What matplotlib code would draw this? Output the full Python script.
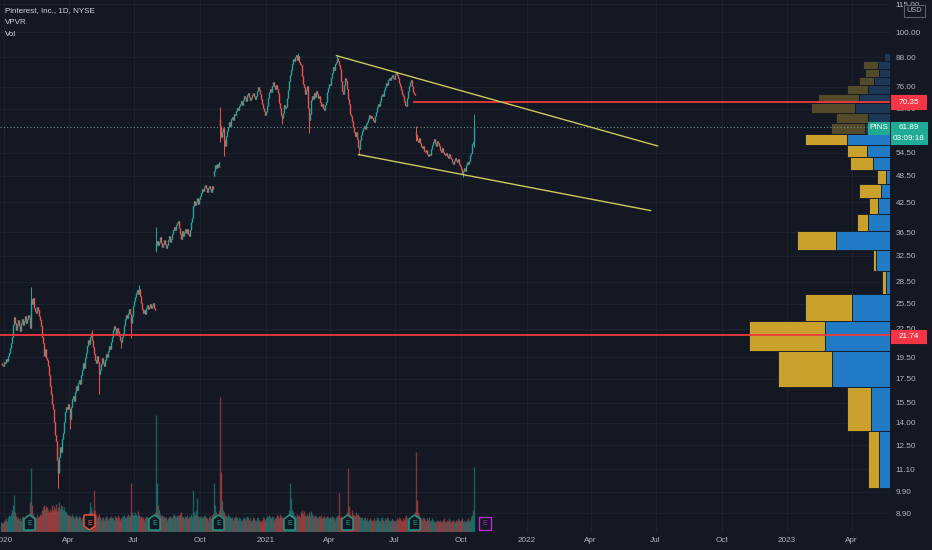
import matplotlib
matplotlib.use("Agg")
import matplotlib.pyplot as plt
from matplotlib.patches import Polygon, Rectangle
from matplotlib.ticker import NullLocator
import numpy as np
import pandas as pd

plt.rcParams['font.family'] = ['Liberation Sans', 'DejaVu Sans']

# ---- data: PINS daily closes / volumes (M), one per weekday from 2019-12-27
start = "2019-12-27"
closes_2020 = [
    18.9, 18.7, 18.6,
    19.0, 18.9, 19.3, 19.1, 19.6, 19.9, 20.4, 20.9, 21.6, 22.9, 23.8, 23.1, 22.4, 23.0, 23.5, 22.8, 22.2, 23.1, 23.6, 22.9, 23.4, 24.0, 23.2,
    23.6, 24.1, 23.8, 22.6, 26.1, 25.5, 26.3, 25.0, 24.6, 24.3, 25.1, 24.7, 24.0, 23.5, 22.8, 21.6, 20.9, 19.6, 20.3, 19.4,
    19.2, 18.6, 17.8, 16.9, 16.2, 15.4, 15.0, 14.1, 13.2, 12.8, 11.6, 10.9, 11.8, 12.4, 12.1, 12.9, 13.3, 14.1, 14.8, 15.2, 15.0, 15.4,
    15.0, 14.3, 15.2, 15.8, 16.0, 15.6, 16.4, 16.9, 16.5, 17.1, 17.4, 17.0, 17.8, 18.3, 18.9, 18.5, 19.4, 19.9, 20.6, 21.3, 20.8, 21.6,
    22.0, 21.2, 20.5, 19.8, 19.2, 18.9, 19.6, 19.0, 17.9, 18.3, 18.8, 19.4, 18.9, 18.6, 19.2, 19.8, 19.5, 20.1, 20.6, 20.3, 21.0,
    21.6, 22.3, 22.8, 22.5, 21.9, 22.6, 22.2, 21.7, 21.3, 21.0, 21.6, 22.0, 22.9, 23.6, 24.1, 23.7, 24.4, 24.8, 24.2, 23.1, 24.0, 25.2,
    25.9, 26.4, 26.9, 27.3, 26.8, 27.4, 26.5, 25.6, 24.8, 24.4, 24.7, 24.2, 24.9, 25.3, 24.8, 25.1, 25.5, 24.9, 25.2, 25.6, 25.0, 24.7, 34.3,
    35.0, 34.2, 34.8, 35.6, 34.6, 33.9, 34.4, 35.1, 34.5, 33.8, 34.3, 35.2, 35.9, 34.8, 35.4, 36.2, 37.0, 37.6, 36.9, 37.8, 38.2,
    38.6, 37.4, 36.2, 35.4, 36.8, 35.9, 36.5, 37.2, 36.4, 37.1, 36.3, 35.8, 36.9, 38.4, 39.2, 41.6, 42.8, 41.9, 42.6, 43.4, 42.1, 43.1,
    43.8, 44.6, 45.3, 44.9, 45.8, 46.3, 45.7, 44.8, 45.6, 46.2, 45.4, 44.7, 46.0, 45.5, 49.6, 51.2, 50.4, 51.6, 50.8, 51.9, 62.5, 58.9,
    60.4, 61.8, 58.2, 56.5, 59.3, 60.8, 62.1, 63.5, 62.4, 64.6, 65.3, 64.1, 66.2, 65.8, 67.4, 68.3, 67.6, 68.9, 69.8, 70.6, 69.4,
    71.2, 72.4, 71.6, 70.8, 72.9, 73.6, 72.1, 70.9, 71.7, 72.8, 73.5, 72.4, 71.3, 72.6, 74.2, 75.8, 74.6, 73.1, 71.5, 69.8, 68.2, 67.1, 65.9,
]
closes_2021 = [
    66.8, 68.9, 71.6, 73.8, 75.2, 74.1, 76.3, 77.8, 76.4, 75.0, 76.8, 75.2, 73.6, 70.1, 68.2, 65.8, 64.9, 66.7, 69.3, 68.4, 68.5,
    71.6, 74.8, 78.3, 80.4, 82.6, 85.1, 87.4, 86.6, 88.3, 89.2, 87.1, 88.5, 86.0, 85.2, 84.6, 80.3, 77.1, 76.0, 73.2, 74.8,
    76.2, 68.4, 64.2, 66.3, 70.9, 72.5, 71.4, 73.6, 72.2, 74.3, 73.1, 71.8, 72.6, 70.4, 68.9, 69.7, 68.3, 67.5, 69.2, 70.5, 73.8, 75.6, 77.0,
    76.8, 79.4, 81.5, 83.7, 82.6, 85.2, 86.1, 87.9, 86.4, 84.8, 83.2, 78.1, 74.2, 73.4, 76.5, 79.2, 78.0, 75.1, 71.3, 69.8, 66.2, 65.6,
    63.9, 62.1, 60.4, 59.2, 60.6, 58.3, 56.2, 55.4, 58.2, 59.6, 60.8, 61.7, 62.5, 61.4, 62.9, 63.7, 64.5, 65.8, 64.9, 65.6, 64.8,
    64.1, 63.6, 65.4, 66.8, 68.5, 69.7, 68.9, 70.6, 72.4, 73.1, 72.5, 74.8, 75.9, 77.3, 76.6, 78.4, 79.2, 78.7, 79.9, 80.6, 79.5, 79.0,
    80.9, 81.6, 80.7, 79.2, 77.5, 76.3, 74.8, 73.2, 72.4, 70.6, 69.4, 68.9, 71.8, 74.5, 76.2, 77.9, 78.6, 76.4, 74.1, 73.2, 72.8, 59.6,
    58.1, 57.4, 58.6, 57.2, 56.3, 55.8, 56.4, 55.1, 54.6, 55.3, 54.2, 53.6, 54.1, 53.9, 55.4, 56.8, 57.6, 58.3, 57.1, 56.5, 57.8, 57.2,
    56.4, 55.2, 54.8, 55.7, 54.6, 54.1, 53.8, 54.5, 53.6, 53.0, 54.2, 53.4, 52.7, 52.1, 51.6, 52.4, 53.1, 52.6, 51.9, 52.8, 51.4, 50.9,
    50.2, 48.9, 49.6, 50.4, 49.8, 51.3, 52.1, 51.6, 52.4, 53.8, 54.3, 56.9, 57.4, 61.89,
]
volumes_2020 = [
    8, 7, 7,
    9, 10, 11, 9, 12, 14, 13, 15, 18, 22, 30, 16, 13, 11, 12, 10, 11, 9, 12, 13, 10, 11, 14,
    12, 14, 13, 24, 52, 22, 15, 13, 12, 11, 14, 12, 13, 15, 14, 18, 20, 22, 19, 21,
    20, 18, 16, 19, 17, 22, 18, 21, 19, 23, 17, 20, 24, 19, 22, 21, 18, 20, 17, 16, 15, 14,
    14, 13, 12, 15, 13, 11, 12, 14, 12, 11, 13, 12, 10, 11, 13, 12, 14, 12, 15, 13, 16, 24,
    20, 17, 15, 34, 18, 14, 11, 13, 15, 12, 10, 11, 12, 10, 11, 13, 12, 10, 11, 12, 13,
    11, 12, 10, 13, 12, 11, 14, 12, 10, 11, 13, 12, 14, 12, 11, 13, 15, 12, 14, 40, 16, 14,
    14, 16, 15, 13, 17, 14, 12, 13, 11, 12, 10, 11, 13, 12, 11, 10, 12, 11, 10, 12, 14, 16, 95,
    40, 22, 18, 15, 13, 14, 12, 13, 11, 12, 10, 11, 12, 13, 11, 12, 14, 15, 13, 12, 14,
    13, 14, 15, 16, 13, 12, 11, 13, 12, 14, 11, 12, 13, 15, 12, 34, 16, 14, 18, 28, 13, 12,
    12, 13, 11, 12, 14, 13, 12, 11, 10, 12, 13, 11, 14, 15, 40, 22, 16, 14, 13, 18, 110, 49,
    25, 18, 16, 14, 13, 12, 15, 13, 12, 11, 12, 10, 11, 12, 13, 11, 10, 12, 11, 9, 10,
    11, 12, 10, 11, 13, 12, 10, 11, 9, 10, 12, 11, 10, 9, 11, 12, 10, 9, 8, 10, 12, 11, 10,
]
volumes_2021 = [
    11, 13, 12, 14, 12, 11, 13, 12, 10, 11, 12, 14, 13, 11, 15, 13, 12, 11, 10, 12, 13,
    14, 13, 18, 40, 28, 18, 16, 14, 13, 12, 15, 13, 14, 12, 16, 18, 15, 17, 14, 13,
    15, 13, 16, 14, 17, 15, 13, 12, 14, 13, 11, 12, 13, 12, 14, 11, 12, 13, 11, 12, 13, 12, 11,
    12, 11, 13, 12, 11, 10, 12, 13, 14, 32, 12, 13, 11, 12, 10, 11, 12, 16, 52, 21, 15, 13,
    18, 15, 14, 13, 16, 14, 15, 13, 12, 11, 12, 10, 11, 12, 10, 11, 9, 10, 11, 10, 9,
    10, 11, 9, 10, 12, 11, 10, 9, 11, 12, 10, 9, 11, 10, 12, 11, 10, 9, 10, 11, 10, 9,
    9, 10, 11, 10, 12, 11, 10, 9, 11, 10, 12, 14, 11, 10, 9, 10, 11, 10, 12, 14, 16, 65,
    26, 16, 14, 12, 11, 10, 12, 11, 10, 9, 11, 10, 12, 9, 10, 11, 10, 9, 8, 9, 10, 9,
    9, 10, 8, 9, 10, 11, 9, 8, 10, 9, 11, 10, 8, 9, 10, 9, 8, 10, 9, 11, 10, 9,
    10, 11, 9, 10, 8, 9, 10, 11, 9, 10, 12, 14, 18, 53,
]
gap_opens = {"2020-07-31": 33.4, "2020-10-21": 48.5, "2020-10-29": 64.5,
             "2021-07-30": 60.5, "2021-10-20": 57.6}
wick_highs = {"2020-02-07": 27.7, "2020-05-04": 22.4, "2020-07-08": 28.0, "2020-07-31": 37.5,
              "2020-10-29": 68.6, "2021-02-16": 89.9, "2021-04-12": 89.1, "2021-07-02": 82.3,
              "2021-07-30": 62.3, "2021-10-20": 66.3}
wick_lows = {"2020-03-17": 10.1, "2020-04-02": 13.6, "2020-05-13": 16.2, "2020-06-12": 20.4,
             "2020-06-26": 21.5, "2020-07-31": 33.0, "2020-10-29": 57.5, "2020-11-04": 53.6,
             "2021-01-25": 63.0, "2021-03-03": 60.3, "2021-05-12": 54.0, "2021-07-30": 57.8,
             "2021-10-05": 48.3, "2021-10-20": 56.2}

# visible range volume profile (M shares per price row), rows from 10.1 up to 89.9
vp_low, vp_high = 10.1, 89.9
vp_up = [55, 95, 290, 325, 190, 20, 70, 270, 110, 60, 45, 20, 85, 115, 215,
         125, 110, 175, 155, 110, 80, 55, 60, 30]
vp_down = [55, 120, 270, 380, 235, 20, 15, 195, 55, 45, 110, 45, 115, 100, 210,
           170, 160, 220, 205, 105, 75, 70, 75, 0]
va_rows = 15  # rows inside the value area

# drawings
support_level = 21.74
resistance_level = 70.35
resistance_from = "2021-07-28"
last_price = 61.89
upper_trend = [("2021-04-12", 88.8), ("2022-07-05", 56.4)]
lower_trend = [("2021-05-12", 54.0), ("2022-06-24", 40.75)]
earnings = [("2020-02-06", "beat"), ("2020-04-30", "miss"), ("2020-07-30", "beat"),
            ("2020-10-28", "beat"), ("2021-02-04", "beat"), ("2021-04-27", "beat"),
            ("2021-07-29", "beat"), ("2021-11-04", "next")]

price_ticks = [8.90, 9.90, 11.10, 12.50, 14.00, 15.50, 17.50, 19.50, 22.50, 25.50, 28.50,
               32.50, 36.50, 42.50, 48.50, 54.50, 68.00, 76.00, 88.00, 100.00, 115.00]
time_ticks = ["2020-01-01", "2020-04-01", "2020-07-01", "2020-10-01", "2021-01-01", "2021-04-01",
              "2021-07-01", "2021-10-01", "2022-01-01", "2022-04-01", "2022-07-01", "2022-10-01",
              "2023-01-01", "2023-04-01"]
time_labels = ["2020", "Apr", "Jul", "Oct", "2021", "Apr", "Jul", "Oct",
               "2022", "Apr", "Jul", "Oct", "2023", "Apr"]

# ---- style
BG = "#141823"
GRID = "#1e2230"
UP, DOWN = "#26a69a", "#ef5350"
RED = "#ec3a3d"
TREND = "#cdc85e"
TXT = "#b2b5be"
W, H = 932, 550
AX_H = 532

closes = closes_2020 + closes_2021
volumes = np.array(volumes_2020 + volumes_2021, dtype=float)
assert len(closes) == len(volumes)
axis_days = pd.bdate_range(start, "2023-12-29")


def xpos(d):
    return int(axis_days.searchsorted(pd.Timestamp(d)))


n = len(closes)
x = np.arange(n)
c = np.array(closes)
o = np.r_[c[0], c[:-1]]
for d, v in gap_opens.items():
    o[xpos(d)] = v
hi = np.maximum(o, c)
lo = np.minimum(o, c)
for d, v in wick_highs.items():
    hi[xpos(d)] = v
for d, v in wick_lows.items():
    lo[xpos(d)] = v
colors = np.where(c >= o, UP, DOWN)

fig = plt.figure(figsize=(W / 100, H / 100), dpi=100, facecolor=BG)
ax = fig.add_axes([0, (H - AX_H) / H, 890 / W, AX_H / H])
ax.set_facecolor(BG)
ax.set_yscale("log")

# candles
ax.vlines(x, lo, hi, colors=colors, lw=0.7, zorder=3)
body_hi = np.maximum(np.maximum(o, c), np.minimum(o, c) * 1.004)
ax.vlines(x, np.minimum(o, c), body_hi, colors=colors, lw=1.0, zorder=3)

# volume
ax.vlines(x, 0, volumes * 1.23 / AX_H, transform=ax.get_xaxis_transform(),
          colors=colors, alpha=0.5, lw=1.0, zorder=2)

# volume profile
edges = np.linspace(vp_low, vp_high, len(vp_up) + 1)
right = 889.5
for i in range(len(vp_up)):
    bright = i < va_rows
    cb = "#207ac4" if bright else "#1c3854"
    cy = "#c9a12c" if bright else "#534a2a"
    wb, wy = vp_up[i] * 0.2, vp_down[i] * 0.2
    hgt = edges[i + 1] - edges[i]
    ax.add_patch(Rectangle((right - wb, edges[i]), wb, hgt, fc=cb, ec=BG, lw=0.6, zorder=1))
    ax.add_patch(Rectangle((right - wb - wy, edges[i]), wy, hgt, fc=cy, ec=BG, lw=0.6, zorder=1))

# drawings
ax.axhline(support_level, color=RED, lw=1.3, zorder=4)
ax.plot([xpos(resistance_from), right], [resistance_level] * 2, color=RED, lw=1.3, zorder=4)
ax.axhline(last_price, color="#6a8f8b", lw=0.8, ls=(0, (1, 2)), zorder=2)
for line in (upper_trend, lower_trend):
    ax.plot([xpos(d) for d, _ in line], [p for _, p in line], color=TREND, lw=1.0, zorder=4)


def fy(ypix):
    return (AX_H - ypix) / AX_H


for d, kind in earnings:
    ex = xpos(d)
    if kind == "beat":
        col = "#1f9d8c"
        pts = [(ex - 5.5, fy(530)), (ex + 5.5, fy(530)), (ex + 5.5, fy(519)), (ex, fy(515)), (ex - 5.5, fy(519))]
    elif kind == "miss":
        col = "#f0513f"
        pts = [(ex - 5.5, fy(515)), (ex + 5.5, fy(515)), (ex + 5.5, fy(526)), (ex, fy(530)), (ex - 5.5, fy(526))]
    else:
        col = "#b62bd0"
        pts = [(ex - 6, fy(530)), (ex + 6, fy(530)), (ex + 6, fy(517)), (ex - 6, fy(517))]
    ax.add_patch(Polygon(pts, closed=True, fc=BG, ec=col, lw=1.0,
                         transform=ax.get_xaxis_transform(), zorder=5))
    ax.text(ex, fy(523.5), "E", color=col, fontsize=5, ha="center", va="center",
            transform=ax.get_xaxis_transform(), zorder=6)

# axes
ax.set_xlim(-0.5, 889.5)
ax.set_ylim(8.09, 117.5)
ax.yaxis.tick_right()
ax.set_yticks(price_ticks)
ax.set_yticklabels(["%.2f" % t for t in price_ticks])
ax.yaxis.set_minor_locator(NullLocator())
ax.set_xticks([xpos(d) for d in time_ticks])
ax.set_xticklabels(time_labels)
ax.tick_params(axis="y", length=0, pad=4, labelcolor=TXT, labelsize=5.9)
ax.tick_params(axis="x", length=0, pad=3.5, labelcolor=TXT, labelsize=5.9)
ax.grid(True, color=GRID, lw=0.7)
ax.set_axisbelow(True)
for s in ax.spines.values():
    s.set_visible(False)


# price tags
def tag(x0, y0, w, h, fc, lines, ec=None, tc="white", fs=5.9):
    fig.add_artist(Rectangle((x0 / W, 1 - (y0 + h) / H), w / W, h / H, transform=fig.transFigure,
                             fc=fc, ec=ec or fc, lw=0.8, zorder=5))
    for ty, s in lines:
        fig.text((x0 + w / 2) / W, 1 - ty / H, s, color=tc, fontsize=fs,
                 ha="center", va="center", zorder=6)


tag(904, 5, 21, 12, BG, [(11, "USD")], ec="#5d606b", tc=TXT, fs=5.3)
tag(891, 95, 35, 14, "#f23645", [(102, "70.35")])
tag(868, 122, 21, 12, "#22ab94", [(128, "PINS")])
tag(891, 122, 36, 22, "#22ab94", [(128, "61.89"), (138.5, "03:09:18")])
tag(891, 330, 35, 13, "#f23645", [(336.5, "21.74")])

# legend
for ty, s in [(11, "Pinterest, Inc., 1D, NYSE"), (22, "VPVR"), (34, "Vol")]:
    fig.text(5 / W, 1 - ty / H, s, color="#d1d4dc", fontsize=5.8, va="center")

fig.savefig("out.png", dpi=100, facecolor=BG)
